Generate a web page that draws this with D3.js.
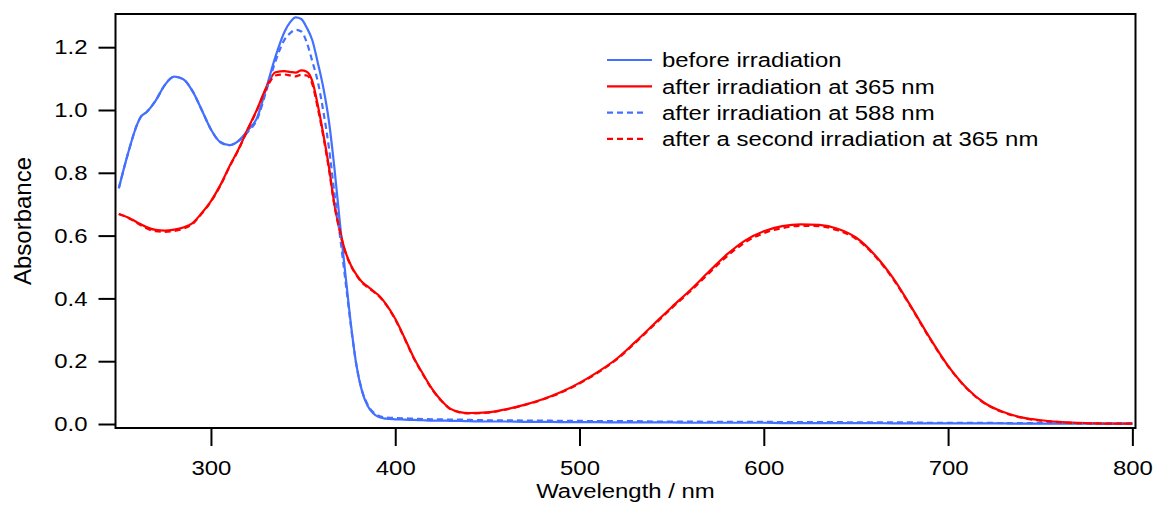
<!DOCTYPE html>
<html>
	<head>
		<title>Absorbance spectra</title>
		<style>
			body, html {
				margin: 0;
				padding: 0;
				background: #fff;
			}
			text {
				font-family: 'Liberation Sans', Arial, Helvetica, sans-serif;
			}
			/* the original lettering is a little wider than Arial */
			text.wide {
				transform-box: fill-box;
				transform: scaleX(1.14);
			}
			text.wide.start { transform-origin: left center; }
			text.wide.mid { transform-origin: center center; }
			text.wide.end { transform-origin: right center; }
		</style>
	</head>
	<body>

		<svg id="svg" width="1156" height="506"></svg>

		<script src="https://d3js.org/d3.v7.min.js"></script>
		<script>
			// Wavelength grid (nm), shared by every spectrum
			const wavelengths = [
				250, 255, 260, 262, 265, 270, 275, 280, 285, 290, 295, 300, 305, 310, 315, 320, 325, 330, 335, 340,
				343, 346, 349, 352, 355, 358, 361, 364, 367, 370, 373, 376, 379, 382, 385, 388, 391, 395, 400, 405,
				410, 415, 420, 425, 430, 435, 440, 450, 460, 470, 480, 490, 500, 510, 520, 530, 540, 550, 560, 570,
				580, 590, 600, 610, 620, 630, 640, 650, 660, 670, 680, 690, 700, 710, 720, 730, 740, 750, 760, 770,
				780, 790, 800
			]

			// before irradiation
			const beforeIrr = [
				0.751, 0.862, 0.955, 0.979, 0.993, 1.030, 1.080, 1.106, 1.098, 1.060, 1.000, 0.938, 0.898, 0.888, 0.902, 0.935, 0.975, 1.070, 1.170, 1.250,
				1.280, 1.295, 1.290, 1.262, 1.222, 1.150, 1.070, 0.965, 0.815, 0.639, 0.475, 0.315, 0.185, 0.104, 0.058, 0.034, 0.022, 0.017, 0.015, 0.014,
				0.013, 0.012, 0.011, 0.011, 0.010, 0.010, 0.009, 0.008, 0.008, 0.007, 0.007, 0.006, 0.006, 0.006, 0.005, 0.005, 0.005, 0.005, 0.004, 0.004,
				0.004, 0.004, 0.004, 0.003, 0.003, 0.003, 0.003, 0.003, 0.003, 0.002, 0.002, 0.002, 0.002, 0.002, 0.002, 0.002, 0.001, 0.001, 0.001, 0.001,
				0.001, 0.001, 0.001
			]

			// after irradiation at 365 nm
			const after365 = [
				0.669, 0.658, 0.642, 0.636, 0.627, 0.618, 0.616, 0.619, 0.626, 0.640, 0.672, 0.710, 0.760, 0.820, 0.876, 0.940, 1.002, 1.072, 1.120, 1.124,
				1.121, 1.119, 1.126, 1.122, 1.092, 1.015, 0.922, 0.820, 0.700, 0.615, 0.548, 0.505, 0.475, 0.452, 0.438, 0.424, 0.410, 0.382, 0.335, 0.275,
				0.212, 0.160, 0.112, 0.075, 0.048, 0.038, 0.035, 0.037, 0.047, 0.061, 0.079, 0.102, 0.131, 0.166, 0.207, 0.260, 0.316, 0.372, 0.426, 0.484,
				0.540, 0.585, 0.614, 0.630, 0.636, 0.634, 0.622, 0.594, 0.540, 0.466, 0.373, 0.275, 0.185, 0.115, 0.066, 0.038, 0.021, 0.012, 0.007, 0.004,
				0.002, 0.001, 0.001
			]

			// after irradiation at 588 nm
			const after588 = [
				0.751, 0.862, 0.955, 0.979, 0.993, 1.030, 1.080, 1.106, 1.098, 1.060, 1.000, 0.938, 0.898, 0.888, 0.902, 0.930, 0.970, 1.060, 1.155, 1.225,
				1.245, 1.255, 1.250, 1.215, 1.155, 1.090, 0.995, 0.880, 0.735, 0.600, 0.455, 0.310, 0.185, 0.106, 0.062, 0.038, 0.026, 0.021, 0.019, 0.018,
				0.017, 0.016, 0.015, 0.015, 0.014, 0.014, 0.013, 0.012, 0.012, 0.011, 0.011, 0.010, 0.010, 0.009, 0.009, 0.009, 0.008, 0.008, 0.008, 0.007,
				0.007, 0.007, 0.007, 0.006, 0.006, 0.006, 0.006, 0.005, 0.005, 0.005, 0.005, 0.004, 0.004, 0.004, 0.004, 0.003, 0.003, 0.003, 0.003, 0.002,
				0.002, 0.002, 0.002
			]

			// after a second irradiation at 365 nm
			const after365b = [
				0.669, 0.657, 0.640, 0.633, 0.623, 0.614, 0.612, 0.615, 0.622, 0.637, 0.670, 0.708, 0.758, 0.818, 0.874, 0.938, 1.000, 1.068, 1.110, 1.113,
				1.110, 1.107, 1.112, 1.110, 1.082, 1.005, 0.915, 0.812, 0.695, 0.612, 0.546, 0.503, 0.473, 0.450, 0.436, 0.422, 0.408, 0.380, 0.333, 0.273,
				0.210, 0.158, 0.110, 0.074, 0.047, 0.037, 0.034, 0.036, 0.046, 0.060, 0.078, 0.100, 0.129, 0.164, 0.205, 0.257, 0.313, 0.369, 0.422, 0.479,
				0.534, 0.579, 0.608, 0.624, 0.631, 0.630, 0.617, 0.590, 0.537, 0.463, 0.371, 0.273, 0.184, 0.114, 0.065, 0.037, 0.020, 0.011, 0.006, 0.003,
				0.002, 0.001, 0.001
			]

			const seriesNames = [
				'before irradiation',
				'after irradiation at 365 nm',
				'after irradiation at 588 nm',
				'after a second irradiation at 365 nm'
			]
			const seriesValues = [beforeIrr, after365, after588, after365b]
			const seriesColors = ['#4470ff', '#ff0000', '#4470ff', '#ff0000']
			const seriesDashed = [false, false, true, true]

			const xTicks = [300, 400, 500, 600, 700, 800]
			const yTicks = [0, 0.2, 0.4, 0.6, 0.8, 1.0, 1.2]

			// plot frame
			const plotLeft = 115.5, plotRight = 1135.5, plotTop = 14, plotBottom = 428

			const x = d3.scaleLinear()
				.domain([248.2, 801.7])
				.range([plotLeft, plotRight])

			const y = d3.scaleLinear()
				.domain([-0.0127, 1.3057])
				.range([plotBottom, plotTop])

			const svg = d3.select('#svg')

			svg.append('defs')
				.append('clipPath')
				.attr('id', 'plot-clip')
				.append('rect')
				.attr('x', plotLeft)
				.attr('y', plotTop)
				.attr('width', plotRight - plotLeft)
				.attr('height', plotBottom - plotTop)

			// spectra
			const line = d3.line()
				.x(d => x(d[0]))
				.y(d => y(d[1]))
				.curve(d3.curveMonotoneX)

			svg.append('g')
				.attr('clip-path', 'url(#plot-clip)')
				.selectAll('path')
				.data(seriesValues)
				.enter()
				.append('path')
				.attr('d', vals => line(wavelengths.map((w, i) => [w, vals[i]])))
				.attr('fill', 'none')
				.attr('stroke', (d, i) => seriesColors[i])
				.attr('stroke-width', 2.2)
				.attr('stroke-dasharray', (d, i) => seriesDashed[i] ? '6,4' : null)
				.attr('stroke-linejoin', 'round')

			// frame box
			svg.append('rect')
				.attr('x', plotLeft)
				.attr('y', plotTop)
				.attr('width', plotRight - plotLeft)
				.attr('height', plotBottom - plotTop)
				.attr('fill', 'none')
				.attr('stroke', '#000')
				.attr('stroke-width', 2)

			// y axis
			const yAxis = svg.append('g')
				.attr('transform', `translate(${plotLeft}, 0)`)
				.call(d3.axisLeft(y)
					.tickValues(yTicks)
					.tickFormat(d3.format('.1f'))
					.tickSize(17)
					.tickPadding(11))
			yAxis.select('.domain').remove()
			yAxis.selectAll('line').attr('stroke', '#000').attr('stroke-width', 2)
			yAxis.selectAll('text')
				.attr('class', 'wide end')
				.attr('font-size', 21)
				.attr('font-family', "'Liberation Sans', Arial, sans-serif")
				.attr('fill', '#000')

			// x axis
			const xAxis = svg.append('g')
				.attr('transform', `translate(0, ${plotBottom})`)
				.call(d3.axisBottom(x)
					.tickValues(xTicks)
					.tickFormat(d3.format('d'))
					.tickSize(18)
					.tickPadding(14))
			xAxis.select('.domain').remove()
			xAxis.selectAll('line').attr('stroke', '#000').attr('stroke-width', 2)
			xAxis.selectAll('text')
				.attr('class', 'wide mid')
				.attr('font-size', 21)
				.attr('font-family', "'Liberation Sans', Arial, sans-serif")
				.attr('fill', '#000')

			// axis titles
			svg.append('text')
				.attr('transform', `translate(31, ${(plotTop + plotBottom) / 2}) rotate(-90)`)
				.attr('text-anchor', 'middle')
				.attr('font-size', 24)
				.text('Absorbance')

			svg.append('text')
				.attr('class', 'wide mid')
				.attr('x', (plotLeft + plotRight) / 2)
				.attr('y', 498.5)
				.attr('text-anchor', 'middle')
				.attr('font-size', 21)
				.text('Wavelength / nm')

			// legend
			const legend = svg.append('g')
				.selectAll('g')
				.data(seriesNames)
				.enter()
				.append('g')
				.attr('transform', (d, i) => `translate(607, ${60 + i * 26.3})`)

			legend.append('line')
				.attr('x1', 0)
				.attr('x2', (d, i) => seriesDashed[i] ? 37 : 45)
				.attr('y1', 0)
				.attr('y2', 0)
				.attr('stroke', (d, i) => seriesColors[i])
				.attr('stroke-width', 2.2)
				.attr('stroke-dasharray', (d, i) => seriesDashed[i] ? '6,4' : null)

			legend.append('text')
				.attr('class', 'wide start')
				.attr('x', 55)
				.attr('dy', '0.35em')
				.attr('font-size', 21)
				.text(d => d)

		</script>
	</body>
</html>
